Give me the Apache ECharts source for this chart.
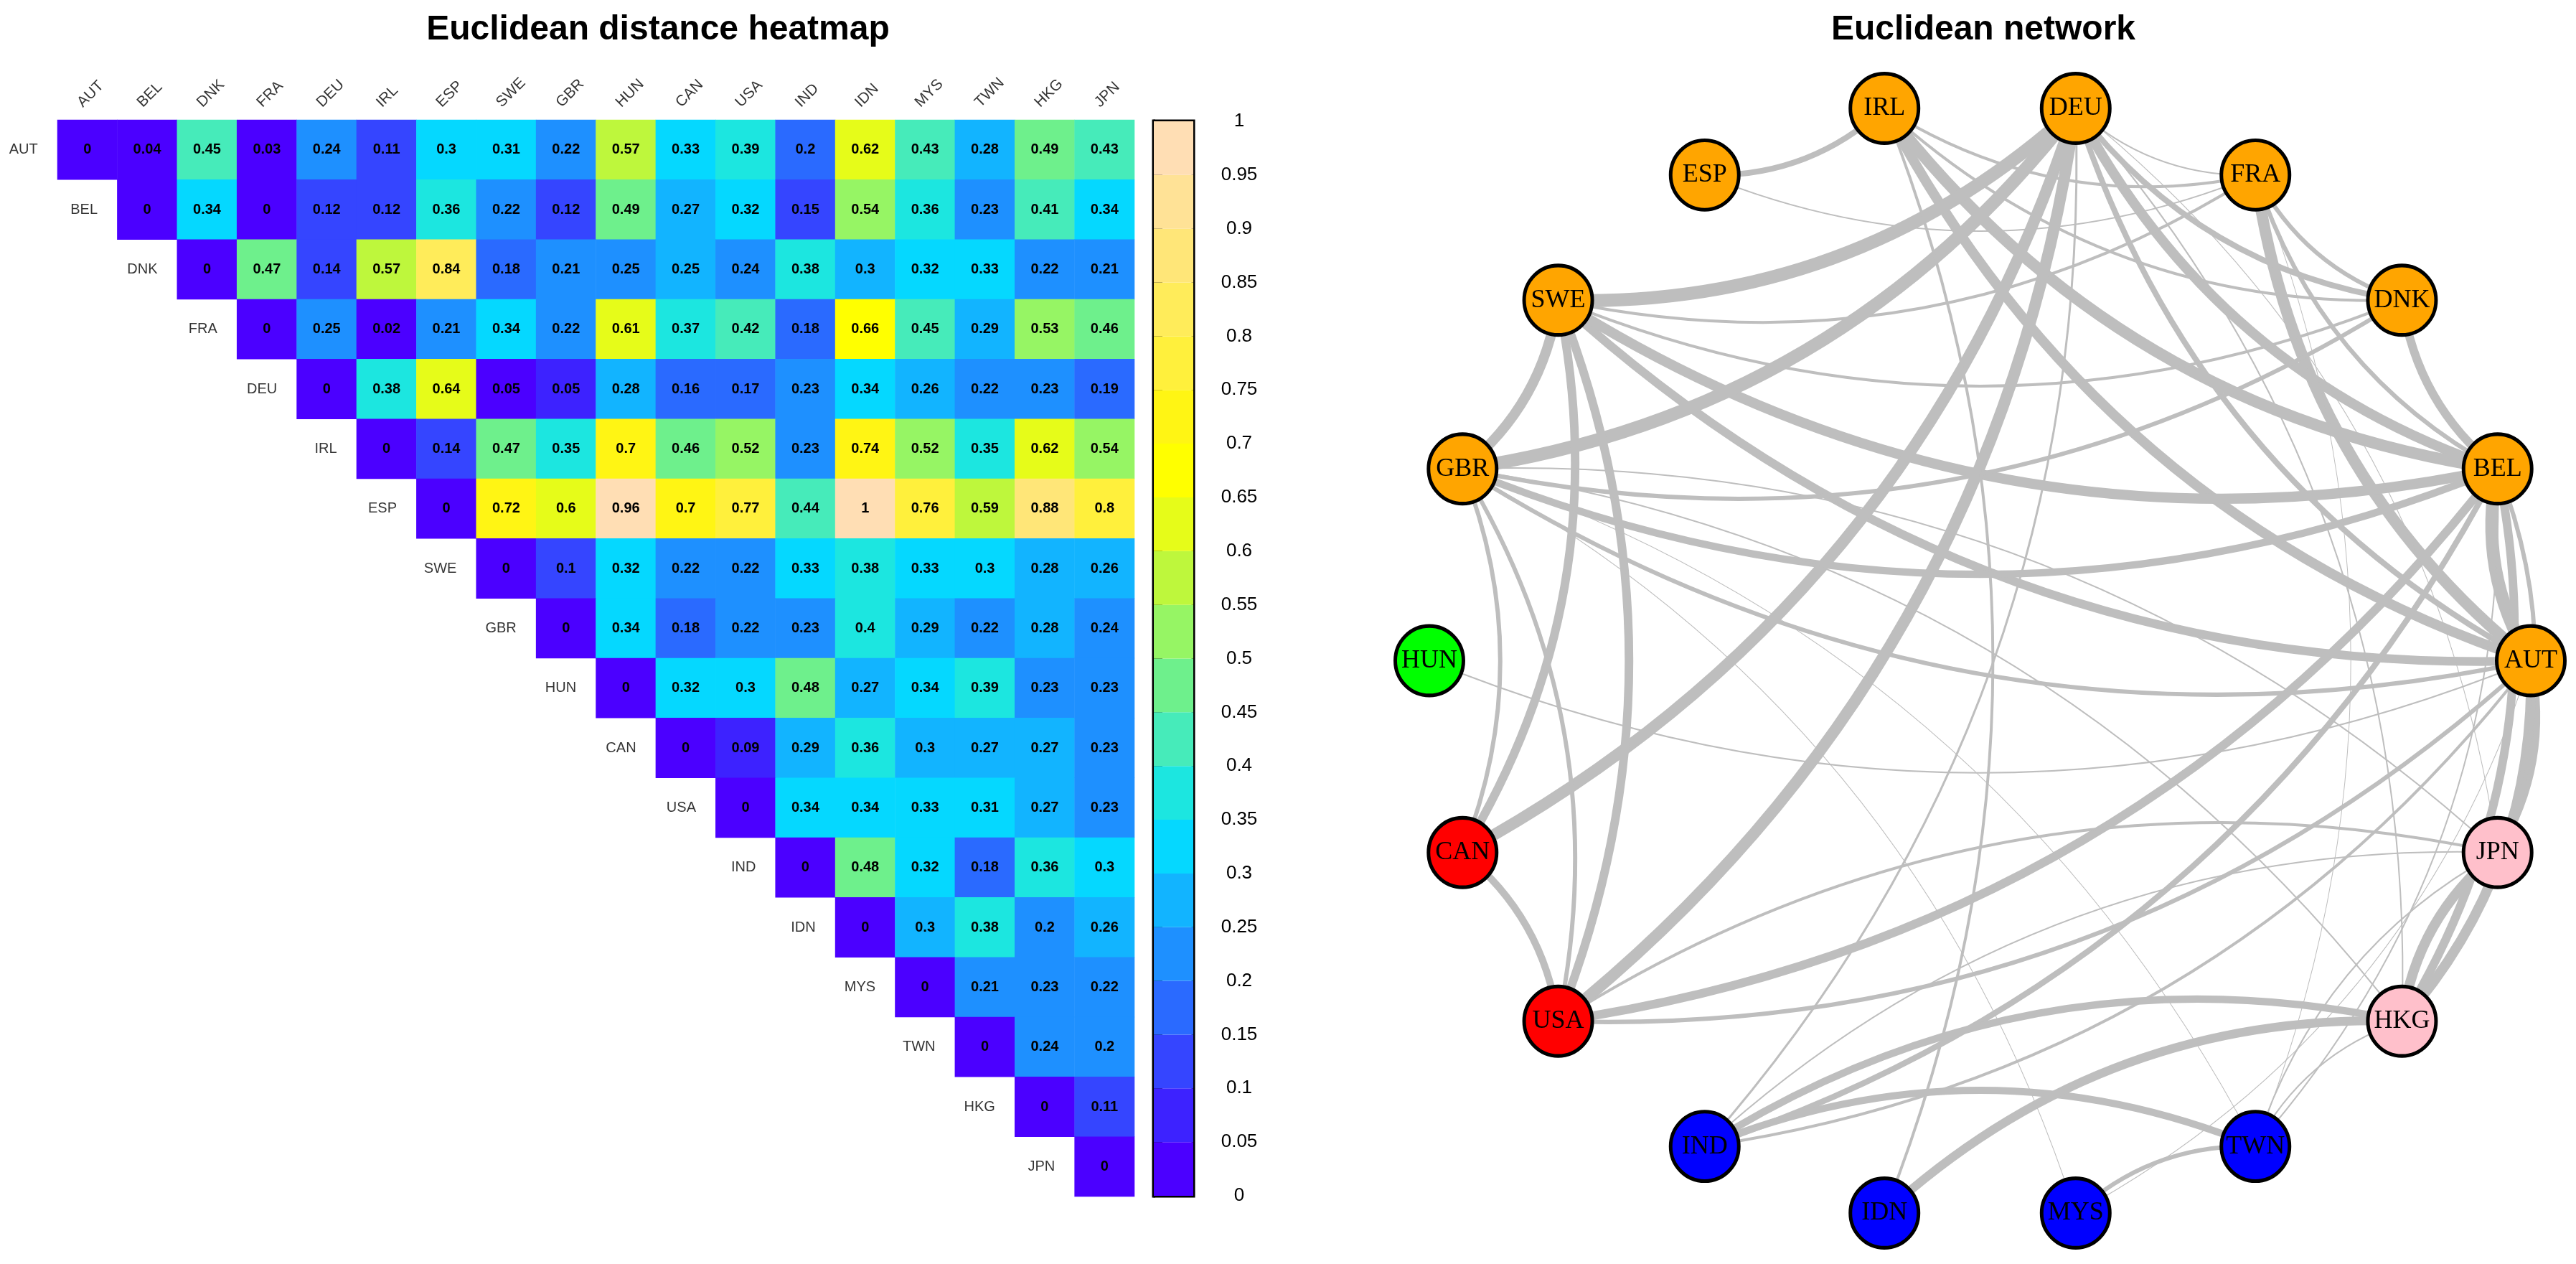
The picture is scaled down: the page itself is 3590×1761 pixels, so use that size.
<!DOCTYPE html>
<html><head><meta charset="utf-8">
<script src="https://cdn.jsdelivr.net/npm/echarts@6/dist/echarts.min.js"></script>
<style>html,body{margin:0;padding:0;background:#fff}#c{width:3590px;height:1761px}</style>
</head><body><div id="c"></div>
<script>
// ---------- DATA ----------
const countries = ['AUT','BEL','DNK','FRA','DEU','IRL','ESP','SWE','GBR','HUN','CAN','USA','IND','IDN','MYS','TWN','HKG','JPN'];
// upper triangle rows (from diagonal to the right); values estimated (3rd decimal)
const rowAUT = [0,0.04,0.45,0.03,0.24,0.11,0.302,0.31,0.22,0.57,0.33,0.39,0.2,0.62,0.43,0.28,0.49,0.43];
const rowBEL = [0,0.34,0,0.12,0.12,0.36,0.22,0.12,0.49,0.27,0.32,0.15,0.54,0.36,0.23,0.41,0.34];
const rowDNK = [0,0.47,0.14,0.57,0.84,0.18,0.21,0.25,0.252,0.24,0.38,0.3,0.32,0.33,0.22,0.21];
const rowFRA = [0,0.25,0.02,0.21,0.34,0.22,0.61,0.37,0.42,0.18,0.66,0.45,0.29,0.53,0.46];
const rowDEU = [0,0.38,0.64,0.05,0.052,0.28,0.16,0.17,0.23,0.34,0.26,0.22,0.23,0.19];
const rowIRL = [0,0.14,0.47,0.352,0.702,0.46,0.52,0.23,0.74,0.52,0.352,0.62,0.54];
const rowESP = [0,0.72,0.602,0.96,0.702,0.77,0.44,1,0.76,0.59,0.88,0.8];
const rowSWE = [0,0.102,0.32,0.22,0.22,0.33,0.38,0.33,0.302,0.28,0.26];
const rowGBR = [0,0.34,0.18,0.22,0.23,0.4,0.29,0.22,0.28,0.24];
const rowHUN = [0,0.32,0.302,0.48,0.27,0.34,0.39,0.23,0.23];
const rowCAN = [0,0.09,0.29,0.36,0.3,0.27,0.27,0.23];
const rowUSA = [0,0.34,0.34,0.33,0.31,0.27,0.23];
const rowIND = [0,0.48,0.32,0.18,0.36,0.302];
const rowIDN = [0,0.3,0.38,0.202,0.26];
const rowMYS = [0,0.21,0.23,0.22];
const rowTWN = [0,0.24,0.202];
const rowHKG = [0,0.11];
const rowJPN = [0];
const distRows = [rowAUT,rowBEL,rowDNK,rowFRA,rowDEU,rowIRL,rowESP,rowSWE,rowGBR,rowHUN,rowCAN,rowUSA,rowIND,rowIDN,rowMYS,rowTWN,rowHKG,rowJPN];

const binTicks = [0,0.05,0.1,0.15,0.2,0.25,0.3,0.35,0.4,0.45,0.5,0.55,0.6,0.65,0.7,0.75,0.8,0.85,0.9,0.95,1];
const binColors = ['#4B00FF','#3D22FF','#3545FF','#2A6AFF','#1E90FF','#12B4FF','#05D8FF','#1CE6E0','#46EBBA','#6EF08C',
                   '#96F564','#BEF73C','#E6FC19','#FFFF00','#FFF514','#FFF03C','#FFEC5A','#FFE678','#FFE296','#FFDEB4'];

const nodeGroups = {AUT:'EU',BEL:'EU',DNK:'EU',FRA:'EU',DEU:'EU',IRL:'EU',ESP:'EU',SWE:'EU',GBR:'EU',
                    HUN:'HU',CAN:'NA',USA:'NA',IND:'AS',IDN:'AS',MYS:'AS',TWN:'AS',HKG:'EA',JPN:'EA'};
const groupColors = {EU:'#FFA500',HU:'#00FF00',NA:'#FF0000',AS:'#0000FF',EA:'#FFC0CB'};

// network edges: [source, target, strength] (strength estimated from drawn line thickness)
const networkEdges = [
 ['AUT','BEL',9],['AUT','FRA',8],['AUT','DEU',4],['AUT','IRL',7],['AUT','SWE',6],['AUT','GBR',3],['AUT','HUN',1],
 ['AUT','JPN',5],['AUT','HKG',7],['AUT','MYS',0.5],['AUT','USA',3],['AUT','IND',2],
 ['BEL','FRA',3],['BEL','DNK',6],['BEL','DEU',7],['BEL','IRL',8],['BEL','SWE',7],['BEL','GBR',5],['BEL','USA',6],
 ['BEL','IND',4],['BEL','HKG',6],['BEL','JPN',3],['BEL','TWN',1],
 ['DNK','FRA',3],['DNK','DEU',4],['DNK','GBR',3],['DNK','SWE',2],['DNK','IRL',2],
 ['FRA','DEU',1],['FRA','SWE',2],['FRA','IRL',2],['FRA','ESP',1],['FRA','TWN',0.5],
 ['DEU','SWE',9],['DEU','GBR',9],['DEU','CAN',8],['DEU','USA',8],['DEU','IND',1.5],['DEU','HKG',1],['DEU','JPN',0.5],
 ['IRL','ESP',4],['IRL','IDN',2],
 ['SWE','GBR',7],['SWE','CAN',6],['SWE','USA',6],
 ['GBR','CAN',3],['GBR','USA',3],['GBR','JPN',1],['GBR','HKG',1],['GBR','MYS',0.5],['GBR','TWN',0.5],
 ['CAN','USA',5],['USA','JPN',2],
 ['IND','HKG',5],['IND','TWN',5],['IND','JPN',1],
 ['IDN','HKG',6],['MYS','TWN',3],['TWN','JPN',1],['TWN','HKG',1],['HKG','JPN',7]
];

// ---------- BUILD ----------
const heatData = [];
distRows.forEach((row, i) => row.forEach((v, k) => heatData.push([i + k, i, v])));
const diagData = countries.map((c, i) => [i, i, c]);
const colLabelData = countries.map((c, j) => [j, 0, c]);

const pieces = [];
for (let b = 0; b < binColors.length; b++) {
  const p = {lte: binTicks[b+1], color: binColors[b]};
  if (b === 0) p.gte = binTicks[0]; else p.gt = binTicks[b];
  pieces.push(p);
}
const binData = binColors.map((c, b) => [binTicks[b], binTicks[b+1], b]);

const n = countries.length;
const nodes = countries.map((c, k) => {
  const a = 2 * Math.PI * k / n;
  return {name: c, x: Math.cos(a) * 100, y: -Math.sin(a) * 100,
          itemStyle: {color: groupColors[nodeGroups[c]]}};
});
const links = networkEdges.map(e => ({source: e[0], target: e[1],
  lineStyle: {width: Math.max(1, e[2] * 2)}}));

const FONT = 'Liberation Sans';
const chart = echarts.init(document.getElementById('c'), null, {renderer: 'canvas'});
chart.setOption({
  animation: false,
  backgroundColor: '#fff',
  title: [
    {text: 'Euclidean distance heatmap', left: 912, top: 13, textAlign: 'center',
     textStyle: {fontFamily: FONT, fontWeight: 'bold', fontSize: 48, color: '#000'}},
    {text: 'Euclidean network', left: 2759, top: 13, textAlign: 'center',
     textStyle: {fontFamily: FONT, fontWeight: 'bold', fontSize: 48, color: '#000'}}
  ],
  grid: [
    {left: 80, top: 167, width: 1501, height: 1500},
    {left: 1608, top: 169, width: 55, height: 1497, show: true, borderColor: '#000', borderWidth: 5}
  ],
  xAxis: [
    {gridIndex: 0, type: 'category', data: countries, position: 'top', show: false},
    {gridIndex: 1, type: 'value', min: 0, max: 1, show: false}
  ],
  yAxis: [
    {gridIndex: 0, type: 'category', data: countries, inverse: true, show: false},
    {gridIndex: 1, type: 'value', min: 0, max: 1, interval: 0.05, position: 'right',
     axisLine: {show: true, lineStyle: {color: '#000', width: 5}},
     axisTick: {show: true, length: 12, lineStyle: {color: '#000', width: 3}},
     splitLine: {show: false},
     axisLabel: {margin: 64, align: 'center', fontFamily: FONT, fontSize: 26, color: '#000',
                 formatter: v => String(+v.toFixed(2))}}
  ],
  visualMap: {type: 'piecewise', show: false, seriesIndex: 0, dimension: 2, pieces: pieces},
  series: [
    {type: 'heatmap', xAxisIndex: 0, yAxisIndex: 0, data: heatData,
     label: {show: true, fontFamily: FONT, fontWeight: 'bold', fontSize: 20, color: '#000',
             formatter: p => String(+p.value[2].toFixed(2))},
     itemStyle: {borderWidth: 0}, emphasis: {disabled: true}},
    {type: 'scatter', xAxisIndex: 0, yAxisIndex: 0, data: diagData, symbolSize: 0, silent: true,
     label: {show: true, position: 'left', distance: 69, fontFamily: FONT, fontSize: 20, color: '#000',
             formatter: p => p.value[2]}},
    {type: 'scatter', xAxisIndex: 0, yAxisIndex: 0, data: colLabelData, symbolSize: 0, silent: true, clip: false,
     label: {show: true, position: [0, 0], offset: [37, -41], rotate: 45, align: 'left', verticalAlign: 'bottom',
             fontFamily: FONT, fontSize: 21, color: '#000', formatter: p => p.value[2]}},
    {type: 'custom', xAxisIndex: 1, yAxisIndex: 1, data: binData, silent: true,
     renderItem: (params, api) => {
       const p1 = api.coord([0, api.value(0)]);
       const p2 = api.coord([1, api.value(1)]);
       return {type: 'rect', shape: {x: p1[0], y: p2[1], width: p2[0] - p1[0], height: p1[1] - p2[1]},
               style: {fill: binColors[api.value(2)]}};
     }},
    {type: 'graph', layout: 'none', left: 1992, top: 151, width: 1535, height: 1539,
     data: nodes, links: links, symbol: 'circle', symbolSize: 95, silent: true,
     itemStyle: {borderColor: '#000', borderWidth: 5},
     label: {show: true, position: 'inside', fontFamily: 'Liberation Serif', fontSize: 36, color: '#000'},
     lineStyle: {color: '#BEBEBE', opacity: 1, curveness: 0.2},
     emphasis: {disabled: true}}
  ]
});
</script></body></html>
